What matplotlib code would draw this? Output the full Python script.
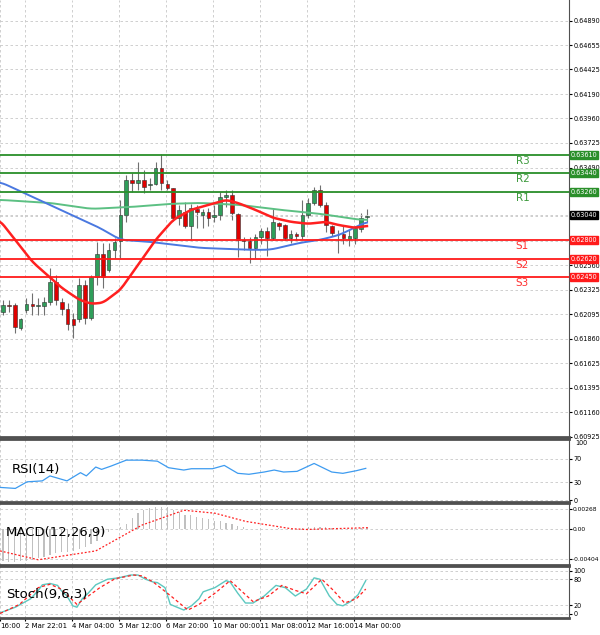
import matplotlib
matplotlib.use("Agg")
import matplotlib.pyplot as plt
import numpy as np

# ---------------- data ----------------
opens = [.62117,.62183,.62183,.61965,.62136,.62193,.62174,.62174,.62212,.62403,
         .62212,.62145,.62050,.62050,.62374,.62060,.62450,.62669,.62516,.62707,
         .62793,.63040,.63373,.63345,.63373,.63326,.63335,.63488,.63335,.63297,
         .63012,.63069,.62935,.63097,.63040,.63069,.63021,.63040,.63212,.63231,
         .63050,.62802,.62793,.62726,.62831,.62888,.62821,.62964,.62945,.62821,
         .62859,.62840,.63040,.63154,.63278,.63135,.62935,.62850,.62859,.62812,
         .62821,.62907,.63021]
closes = [.62183,.62174,.61974,.62050,.62193,.62174,.62183,.62212,.62403,.62231,
          .62145,.62003,.61993,.62374,.62060,.62450,.62669,.62450,.62707,.62783,
          .63040,.63373,.63345,.63373,.63307,.63335,.63488,.63345,.63297,.63012,
          .63088,.62935,.63107,.63069,.63069,.63012,.63040,.63212,.63231,.63059,
          .62802,.62793,.62726,.62831,.62888,.62821,.62974,.62935,.62821,.62859,
          .62840,.63040,.63154,.63278,.63135,.62945,.62869,.62850,.62821,.62840,
          .62916,.63012,.63030]
highs = [.62231,.62231,.62202,.62060,.62250,.62298,.62250,.62260,.62536,.62469,
         .62250,.62202,.62107,.62441,.62421,.62469,.62783,.62774,.62774,.62821,
         .63183,.63421,.63440,.63545,.63469,.63392,.63545,.63621,.63373,.63300,
         .63135,.63164,.63145,.63135,.63097,.63107,.63135,.63259,.63278,.63278,
         .63055,.62831,.62831,.62859,.62916,.62926,.63097,.62974,.62950,.62897,
         .62878,.63183,.63202,.63307,.63326,.63164,.62945,.62897,.62935,.62897,
         .62935,.63059,.63097]
lows = [.62088,.62117,.61917,.61945,.62107,.62088,.62088,.62088,.62183,.62183,
        .62088,.61945,.61869,.62022,.62003,.62040,.62374,.62345,.62497,.62631,
        .62631,.62974,.63259,.63278,.63250,.63278,.63326,.63278,.63278,.62983,
        .62945,.62916,.62802,.62916,.62916,.62935,.62974,.62993,.63116,.62993,
        .62640,.62707,.62583,.62631,.62764,.62650,.62802,.62897,.62802,.62774,
        .62802,.62812,.63012,.63135,.63116,.62878,.62840,.62678,.62764,.62745,
        .62764,.62878,.62974]

ma_fast_x = [-0.5,5,10,13,15,17,20,23,26,29,32,35,38,40,43,46,49,52,55,57,60,62]
ma_fast = [.62985,.62593,.62345,.62231,.62193,.62202,.62326,.62564,.62802,.62993,.63088,
           .63135,.63183,.63154,.63088,.63012,.62974,.62955,.62974,.62945,.62916,.62935]
ma_slow_x = [-0.5,8,16.5,20,25,33.5,42,45.5,50.6,54,57.4,60.8,62]
ma_slow = [.63354,.63135,.62916,.62802,.62783,.62726,.62707,.62707,.62774,.62802,.62850,.62945,.62974]
ma_mid_x = [-0.5,8,15,22,28.5,33.5,40.4,47.2,54,60.8,62]
ma_mid = [.63183,.63154,.63097,.63116,.63145,.63154,.63135,.63088,.63050,.62993,.62993]

levels = [0.63610, 0.63440, 0.63260, 0.62800, 0.62620, 0.62450]
level_names = ["R3", "R2", "R1", "S1", "S2", "S3"]
current_price = 0.63040
price_ticks = [0.64890,0.64655,0.64425,0.64190,0.63960,0.63725,0.63490,0.63260,0.63025,
               0.62795,0.62560,0.62325,0.62095,0.61860,0.61625,0.61395,0.61160,0.60925]

rsi_x = [-0.5,2.1,4.1,6.7,8.0,10.9,13.2,14.2,15.8,16.8,18.4,21.0,23.7,26.3,28.2,30.8,32.1,
         35.7,37.7,40.0,41.9,44.5,46.2,47.8,50.1,53.0,56.0,57.9,60.2,61.8]
rsi = [21.8,20.1,31.1,32.7,41,32.7,46.4,41,55.8,51.9,57.4,67.3,67.3,65.6,54.7,50.8,53,
       53,58.5,45.3,43.7,47.5,50.8,47.5,48.6,61.8,47.5,45.3,49.7,53.6]

macd_hist = [-0.0044,-0.0045,-0.0045,-0.0044,-0.0043,-0.0042,-0.0040,-0.0038,-0.0036,-0.0033,
             -0.0032,-0.0031,-0.0030,-0.0028,-0.0025,-0.0020,-0.0016,-0.0011,-0.0005,-0.0001,
             0.0002,0.0006,0.0014,0.0021,0.0025,0.0028,0.0030,0.0030,0.0029,0.0026,
             0.0023,0.0019,0.0018,0.0016,0.0014,0.0013,0.0011,0.0010,0.0008,0.0006,
             0.0004,0.0002,0.0000,-0.0001,-0.0001,-0.0001,0.0000,0.0001,0.0000,-0.0001,
             0.0000,0.0001,0.0002,0.0003,0.0003,0.0002,0.0001,0.0000,-0.0001,0.0000,
             0.0000,0.0001,0.0001]
macd_sig_x = [-0.5,6.0,15.8,23.7,30.8,36.1,41.3,49.1,51.7,62.2]
macd_sig = [-0.0030,-0.0042,-0.0030,0.0005,0.0025,0.0021,0.0010,0.0,-0.0001,0.00014]

stoch_x = [-0.5,2.1,4.7,6.0,6.7,8.0,9.3,9.9,10.9,11.9,12.6,13.5,14.5,15.8,17.8,19.7,21.7,23.0,
           24.3,25.6,26.3,27.6,28.5,30.8,32.1,33.4,34.1,36.1,38.0,38.7,40.0,41.3,42.6,44.5,
           46.5,48.1,49.8,51.7,53.0,54.0,55.6,56.9,57.9,59.2,60.5,61.8]
stoch_k = [2.6,15.5,34.9,54.2,67.1,70.3,65.8,54.2,41.3,18.7,15.5,34.9,47.7,67.1,80,83.2,89.7,
           89.7,80,73.5,72.3,60.6,22,9,18.7,34.9,51,60.6,76.8,73.5,47.7,25.2,25.2,41.3,65.8,
           60.6,41.3,57.4,83.2,80,41.3,22,18.7,28.4,44.5,76.8]
stoch_d_x = [-0.5,2.8,6.0,8.0,9.9,12.6,13.9,16.5,19.1,22.3,23.7,25.6,28.9,31.5,33.4,36.1,38.7,
             40.0,42.6,45.2,47.5,49.8,51.7,54.3,56.3,58.2,60.2,61.8]
stoch_d = [1,22,60.6,68.4,57.4,22,34.9,60.6,81.3,89.7,87.7,73.5,38.1,9,22,47.7,76.8,60.6,
           28.4,41.3,65.8,54.2,46.5,80,54.2,25.2,34.9,57.4]

date_ticks = [-0.5,3.75,11.75,19.75,27.75,35.75,43.75,51.75,59.75]
date_labels = ["16:00","2 Mar 22:01","4 Mar 04:00","5 Mar 12:00","6 Mar 20:00",
               "10 Mar 00:00","11 Mar 08:00","12 Mar 16:00","14 Mar 00:00"]


def smooth_line(xs, ys, k=25):
    xf = np.linspace(xs[0], xs[-1], 600)
    yf = np.interp(xf, xs, ys)
    pad = np.concatenate([np.full(k, yf[0]), yf, np.full(k, yf[-1])])
    ker = np.ones(k) / k
    ys2 = np.convolve(pad, ker, mode="same")[k:-k]
    return xf, ys2


# ---------------- figure ----------------
fig = plt.figure(figsize=(6, 6.35), dpi=100)
L, W = 0.0, 0.948
XL = (-0.51, -0.51 + 600 * W / 5.87)
ax = fig.add_axes([L, 0.312, W, 0.688])
ax_rsi = fig.add_axes([L, 0.210, W, 0.099])
ax_macd = fig.add_axes([L, 0.111, W, 0.097])
ax_st = fig.add_axes([L, 0.027, W, 0.082])

FS = 4.7
grid_kw = dict(color="#c8c8c8", linestyle=(0, (3, 3)), linewidth=0.6)
for a in (ax, ax_rsi, ax_macd, ax_st):
    a.set_xlim(*XL)
    a.set_facecolor("white")
    a.yaxis.tick_right()
    a.tick_params(axis="y", labelsize=FS, length=2, pad=1.5)
    a.set_xticks(date_ticks)
    a.grid(True, **grid_kw)
    a.set_axisbelow(True)
    for s in a.spines.values():
        s.set_color("#505050")
        s.set_linewidth(0.8)
    a.spines["left"].set_visible(False)
    if a is not ax_st:
        a.tick_params(axis="x", labelbottom=False, length=0)
    a.spines["bottom"].set_linewidth(2)
    if a is not ax:
        a.spines["top"].set_linewidth(2)

# main
ax.set_ylim(0.60927, 0.65087)
ax.set_yticks(price_ticks)
hide = {0.63260, 0.63025, 0.62795}
ax.set_yticklabels(["" if t in hide else f"{t:.5f}" for t in price_ticks])
ax.spines["top"].set_visible(False)

idx = np.arange(len(opens))
for i in idx:
    o, c, h, l = opens[i], closes[i], highs[i], lows[i]
    ax.vlines(i, l, h, color="#707070", linewidth=0.8, zorder=2)
    col = "#2f9e5a" if c >= o else "#e00000"
    bot, top = min(o, c), max(o, c)
    ht = max(top - bot, 0.00002)
    ax.bar(i, ht, bottom=bot, width=0.62, color=col, edgecolor="#303030",
           linewidth=0.4, zorder=3)

ax.plot(*smooth_line(ma_mid_x, ma_mid), color="#5cc083", lw=1.4, zorder=4)
ax.plot(*smooth_line(ma_slow_x, ma_slow), color="#4a78e0", lw=1.4, zorder=4)
ax.plot(*smooth_line(ma_fast_x, ma_fast, 15), color="#ff2020", lw=1.8, zorder=4)

for lv, nm in zip(levels, level_names):
    col = "#2a8f2a" if nm.startswith("R") else "#ff1a1a"
    tcol = "#3d9a3d" if nm.startswith("R") else "#ff3030"
    ax.axhline(lv, color=col, lw=1.3, zorder=5)
    ax.text(88.5, lv - 0.00055, nm, color=tcol, fontsize=7.5, ha="center", va="center")
    ax.text(1.004, lv, f"{lv:.5f}", transform=ax.get_yaxis_transform(), fontsize=FS,
            color="white", va="center", ha="left", zorder=10,
            bbox=dict(boxstyle="square,pad=0.12", fc=col, ec=col))
ax.text(1.004, current_price, f"{current_price:.5f}", transform=ax.get_yaxis_transform(),
        fontsize=FS, color="white", va="center", ha="left", zorder=10,
        bbox=dict(boxstyle="square,pad=0.12", fc="black", ec="black"))
ax.axhline(current_price, color="#c8c8c8", lw=0.6, linestyle=(0, (3, 3)))

# RSI
ax_rsi.set_ylim(-2, 103)
ax_rsi.set_yticks([70, 30, 0])
ax_rsi.text(1.012, 96, "100", transform=ax_rsi.get_yaxis_transform(), fontsize=FS, va="center")
ax_rsi.plot(rsi_x, rsi, color="#3d9bf0", lw=0.9)
ax_rsi.text(1.5, 52, "RSI(14)", fontsize=9.5, va="center")

# MACD
ax_macd.set_ylim(-0.00484, 0.00349)
ax_macd.set_yticks([0.00268, 0.0, -0.00404])
ax_macd.set_yticklabels(["0.00268", "0.00", "-0.00404"])
ax_macd.tick_params(axis="y", labelsize=4.3, pad=1)
ax_macd.bar(idx, macd_hist, width=0.2, color="#c0c0c0", zorder=2)
ax_macd.plot(macd_sig_x, macd_sig, color="#ff2020", lw=0.9, linestyle=(0, (1.5, 1.5)), zorder=3)
ax_macd.text(0.5, -0.0005, "MACD(12,26,9)", fontsize=9.5, va="center")

# Stoch
ax_st.set_ylim(-9, 111)
ax_st.set_yticks([100, 80, 20, 0])
ax_st.plot(stoch_x, stoch_k, color="#5cc8c0", lw=1.0)
ax_st.plot(stoch_d_x, stoch_d, color="#ff2020", lw=0.9, linestyle=(0, (2.5, 2)))
ax_st.text(0.5, 45, "Stoch(9,6,3)", fontsize=9.5, va="center")
ax_st.set_xticklabels(date_labels, fontsize=5, ha="left")
ax_st.tick_params(axis="x", length=2, pad=2)

fig.savefig("out.png", dpi=100)
